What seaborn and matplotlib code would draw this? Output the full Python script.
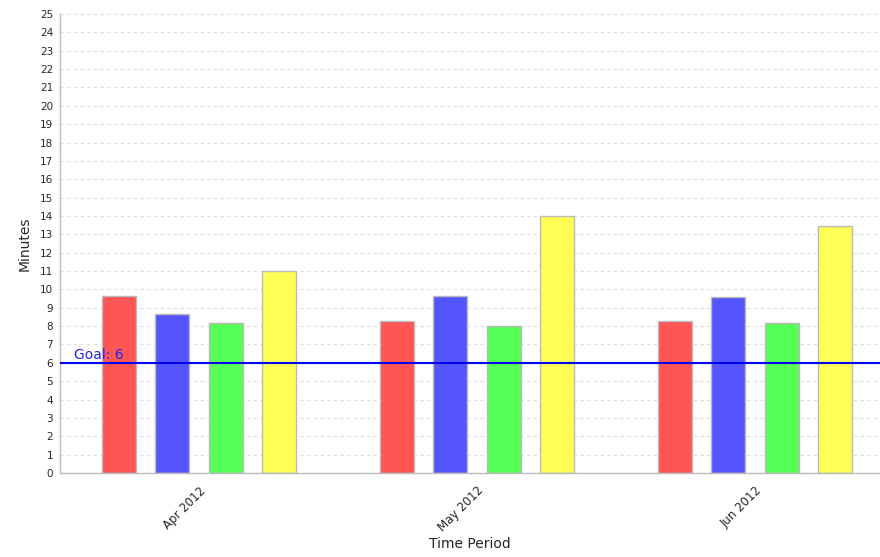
import numpy as np
import pandas as pd
import matplotlib
matplotlib.use('Agg')
import matplotlib.pyplot as plt
import seaborn as sns

# values
periods = ['Apr 2012', 'May 2012', 'Jun 2012']
series = ['S1', 'S2', 'S3', 'S4']
s1_values = [9.65, 8.28, 8.28]
s2_values = [8.65, 9.65, 9.6]
s3_values = [8.15, 8.0, 8.15]
s4_values = [11.0, 14.0, 13.45]
bar_colors = ['#FF5555', '#5555FF', '#55FF55', '#FFFF55']
goal = 6
y_ticks = list(range(0, 26))

rows = []
for name, vals in zip(series, [s1_values, s2_values, s3_values, s4_values]):
    for p, v in zip(periods, vals):
        rows.append({'period': p, 'series': name, 'minutes': v})
df = pd.DataFrame(rows)

sns.set_style('white')
plt.rcParams['font.family'] = ['DejaVu Sans']

fig = plt.figure(figsize=(8.8, 5.57), dpi=100)
ax = fig.add_axes([60 / 880, 1 - 473 / 557, 1 - 60 / 880, (473 - 14) / 557])

sns.barplot(data=df, x='period', y='minutes', hue='series', order=periods,
            hue_order=series, palette=bar_colors, saturation=1, width=0.77, gap=0.36,
            edgecolor='#BBBBBB', linewidth=1, legend=False, ax=ax)

ax.set_ylim(0, 25)
ax.set_xlim(-0.5, 2.45)
ax.set_yticks(y_ticks)
ax.set_yticklabels([str(t) for t in y_ticks], fontsize=7.5)
ax.yaxis.grid(True, linestyle=(0, (3, 3)), color='#DDDDDD', linewidth=0.8)
ax.xaxis.grid(False)
ax.set_axisbelow(True)

ax.tick_params(axis='y', length=3, color='#999999', pad=2)
ax.tick_params(axis='x', length=0, pad=8)
for lbl in ax.get_xticklabels():
    lbl.set_rotation(45)
    lbl.set_ha('right')
    lbl.set_rotation_mode('anchor')
    lbl.set_fontsize(8.5)

for side in ['top', 'right']:
    ax.spines[side].set_visible(False)
for side in ['left', 'bottom']:
    ax.spines[side].set_color('#BBBBBB')
    ax.spines[side].set_linewidth(1)

ax.axhline(goal, color='#0000EE', linewidth=1.5, zorder=5)
ax.text(-0.45, goal + 0.05, 'Goal: 6', color='#2222EE', fontsize=10,
        va='bottom', ha='left', zorder=6)

ax.set_xlabel('Time Period', fontsize=10, labelpad=2)
ax.set_ylabel('Minutes', fontsize=10, labelpad=6)

fig.savefig('out.png', dpi=100)
